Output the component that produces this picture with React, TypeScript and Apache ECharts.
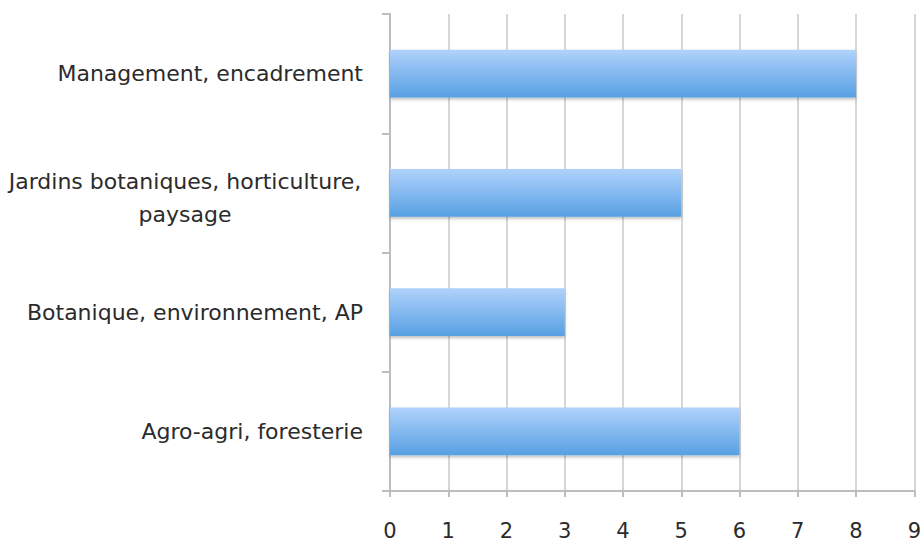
import React, { useEffect, useRef } from "react";
import * as echarts from "echarts";

const categories = [
  "Management, encadrement",
  "Jardins botaniques, horticulture,\npaysage",
  "Botanique, environnement, AP",
  "Agro-agri, foresterie",
];
const values = [8, 5, 3, 6];
const xTicks = [0, 1, 2, 3, 4, 5, 6, 7, 8, 9];

const FONT = "DejaVu Sans";

export default function App() {
  const ref = useRef<HTMLDivElement>(null);
  useEffect(() => {
    if (!ref.current) return;
    const chart = echarts.init(ref.current, undefined, { renderer: "svg" });
    chart.setOption({
      animation: false,
      backgroundColor: "#ffffff",
      textStyle: { fontFamily: FONT },
      grid: { left: 390, right: 6, top: 14, bottom: 48, containLabel: false },
      xAxis: {
        type: "value",
        min: xTicks[0],
        max: xTicks[xTicks.length - 1],
        interval: 1,
        axisLine: { show: true, lineStyle: { color: "#bdbdbd", width: 2 } },
        axisTick: { show: true, length: 6, lineStyle: { color: "#bdbdbd", width: 2 } },
        splitLine: { show: true, lineStyle: { color: "#d6d6d6", width: 2 } },
        axisLabel: { color: "#2b2b2b", fontSize: 21, margin: 29, fontFamily: FONT },
      },
      yAxis: {
        type: "category",
        inverse: true,
        data: categories.map((c) =>
          c.indexOf("\n") >= 0 ? { value: c, textStyle: { padding: [11, 0, 0, 0] } } : c
        ),
        axisLine: { show: true, lineStyle: { color: "#bdbdbd", width: 2 } },
        axisTick: { show: true, length: 8, lineStyle: { color: "#bdbdbd", width: 2 } },
        splitLine: { show: false },
        axisLabel: {
          color: "#2b2b2b",
          fontSize: 22,
          margin: 27,
          fontFamily: FONT,
          formatter: (v: string) => {
            if (v.indexOf("\n") >= 0) {
              return v
                .split("\n")
                .map((l) => "{c|" + l + "}")
                .join("\n");
            }
            return v;
          },
          rich: {
            c: {
              width: 356,
              align: "center",
              fontSize: 22,
              lineHeight: 33,
              color: "#2b2b2b",
              fontFamily: FONT,
            },
          },
        },
      },
      series: [
        {
          type: "bar",
          data: values,
          barWidth: "40%",
          itemStyle: {
            color: new echarts.graphic.LinearGradient(0, 0, 0, 1, [
              { offset: 0, color: "#b0d2fc" },
              { offset: 1, color: "#57a0e2" },
            ]),
            shadowColor: "rgba(0,0,0,0.25)",
            shadowBlur: 3,
            shadowOffsetY: 2,
          },
        },
      ],
    });
    return () => chart.dispose();
  }, []);
  return <div ref={ref} style={{ width: 924, height: 541, position: "absolute", left: 0, top: 0 }} />;
}
